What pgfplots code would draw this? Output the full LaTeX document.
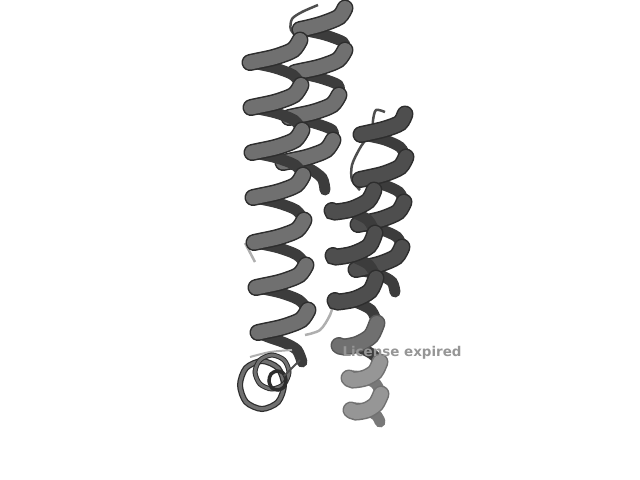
\documentclass[border=0pt]{standalone}
\usepackage{pgfplots}
\usepackage{pgfplotstable}
\usepackage{fontspec}
\newfontfamily\dejavu{DejaVu Sans}
\pgfplotsset{compat=1.18}
\definecolor{rib}{RGB}{112,112,112}
\definecolor{ribd}{RGB}{78,78,78}
\definecolor{ribb}{RGB}{60,60,60}
\definecolor{ribl}{RGB}{150,150,150}
\definecolor{edgec}{RGB}{45,45,45}
\definecolor{lightgr}{RGB}{175,175,175}
\definecolor{txtgr}{RGB}{150,150,150}
\pgfplotsset{
  backrib/.style={ribb, line width=11bp, smooth, line cap=round},
  frontout/.style={edgec, line width=17bp, smooth, line cap=round},
  frontin/.style={line width=14bp, smooth, line cap=round},
}
\pgfplotstableread{
x y
300 40
293 50
275 57
257 61
250 62.5
nan nan
301 85
294 95
276 102
258 106
251 107.5
nan nan
302 130
295 140
277 147
259 151
252 152.5
nan nan
303 175
296 185
278 192
260 196
253 197.5
nan nan
304 220
297 230
279 237
261 241
254 242.5
nan nan
306 265
299 275
281 282
263 286
256 287.5
nan nan
308 310
301 320
283 327
265 331
258 332.5
}\Afront
\pgfplotstableread{
x y
250 62.5
257 64
275 68
293 75
301 85
nan nan
251 107.5
258 109
276 113
294 120
302 130
nan nan
252 152.5
259 154
277 158
295 165
303 175
nan nan
253 197.5
260 199
278 203
296 210
304 220
nan nan
254 242.5
261 244
279 248
297 255
306 265
nan nan
256 287.5
263 289
281 293
299 300
308 310
nan nan
258 332.5
268 337
285 343
297 350
302 362
}\Aback
\pgfplotstableread{
x y
345 8
339 17
322 24
307 28
300 29.5
nan nan
345 50
338 60
320 67
302 71
295 72.5
nan nan
339 95
332 105
314 112
296 116
289 117.5
nan nan
333 140
326 150
308 157
290 161
283 162.5
}\Bfront
\pgfplotstableread{
x y
300 29.5
307 31
325 35
343 42
345 50
nan nan
295 72.5
302 74
320 78
338 85
339 95
nan nan
289 117.5
296 119
314 123
332 130
333 140
nan nan
283 162.5
290 164
308 168
322 178
325 190
}\Bback
\pgfplotstableread{
x y
405 114
400 123
385 129
368 133
361 134.5
nan nan
406 157
400 167
384 174
367 178
360 179.5
nan nan
404 202
398 212
382 219
365 223
358 224.5
nan nan
402 247
396 257
380 264
363 268
356 269.5
}\Cfront
\pgfplotstableread{
x y
361 134.5
368 136
385 140
400 147
406 157
nan nan
360 179.5
367 181
384 185
399 192
404 202
nan nan
358 224.5
365 226
382 230
397 237
402 247
nan nan
356 269.5
363 271
380 275
392 282
395 292
}\Cback
\pgfplotstableread{
x y
374 190
368 201
352 209
335 212
332 210.5
nan nan
375 233
369 246
353 254
336 257
333 255.5
nan nan
376 278
370 291
355 299
338 302
335 300.5
}\Dfronta
\pgfplotstableread{
x y
377 323
371 336
358 344
344 347
339 345.5
}\Dfrontb
\pgfplotstableread{
x y
380 362
375 372
365 378
353 380
349 378
nan nan
381 394
376 404
367 410
356 412
351 410
}\Dfrontc
\pgfplotstableread{
x y
332 210.5
337 209
352 212
368 220
375 233
nan nan
333 255.5
338 254
353 257
369 265
376 278
nan nan
335 300.5
340 299
355 302
371 310
377 323
nan nan
339 345.5
344 344
358 347
372 354
380 362
}\Dbacka
\pgfplotstableread{
x y
349 378
354 376
365 378
376 384
381 394
nan nan
351 410
356 408
367 410
377 416
380 422
}\Dbackb
\begin{document}
\begin{tikzpicture}
\begin{axis}[
  anchor=south west, at={(0,0)},
  width=640bp, height=480bp, scale only axis,
  xmin=0, xmax=640, ymin=0, ymax=480, y dir=reverse,
  hide axis, clip=false, unbounded coords=jump]
% thin loops
\addplot[lightgr, line width=2.5bp, smooth] coordinates {(305,335) (320,330) (330,315) (335,298)};
\addplot[lightgr, line width=2.5bp] coordinates {(245,243) (255,262)};
\addplot[ribd, line width=2.5bp, smooth] coordinates {(300,40) (291,30) (292,19) (302,12) (318,5)};
\addplot[ribd, line width=2.5bp, smooth] coordinates {(385,112) (376,110) (373,120) (372,130) (360,148) (352,165) (352,180) (360,190)};
% helix B
\addplot[backrib] table {\Bback};
\addplot[frontout] table {\Bfront};
\addplot[frontin, rib] table {\Bfront};
% helix C
\addplot[backrib] table {\Cback};
\addplot[frontout] table {\Cfront};
\addplot[frontin, ribd] table {\Cfront};
% helix A
\addplot[backrib] table {\Aback};
\addplot[frontout] table {\Afront};
\addplot[frontin, rib] table {\Afront};
% helix D
\addplot[backrib] table {\Dbacka};
\addplot[backrib, color=ribl!80!black] table {\Dbackb};
\addplot[frontout] table {\Dfronta};
\addplot[frontin, ribd] table {\Dfronta};
\addplot[frontout, color=edgec!80] table {\Dfrontb};
\addplot[frontin, rib] table {\Dfrontb};
\addplot[frontout, color=ribl!75!black] table {\Dfrontc};
\addplot[frontin, ribl] table {\Dfrontc};
% coil rings
\addplot[lightgr, line width=2bp, smooth] coordinates {(250,357) (270,352) (292,350)};
\addplot[edgec, line width=6bp, smooth cycle] coordinates {(284,385) (278,368) (262,361) (246,368) (240,385) (246,402) (262,409) (278,402)};
\addplot[rib, line width=3.5bp, smooth cycle] coordinates {(284,385) (278,368) (262,361) (246,368) (240,385) (246,402) (262,409) (278,402)};
\addplot[edgec, line width=5bp, smooth cycle] coordinates {(289,372) (284,360) (272,355) (260,360) (255,372) (260,384) (272,389) (284,384)};
\addplot[rib, line width=3bp, smooth cycle] coordinates {(289,372) (284,360) (272,355) (260,360) (255,372) (260,384) (272,389) (284,384)};
\addplot[edgec, line width=3.5bp, smooth cycle] coordinates {(286,380) (283,373) (277,371) (271,374) (269,381) (272,388) (278,390) (284,387)};
\addplot[ribd, line width=2bp, smooth] coordinates {(284,376) (292,368) (300,360)};
\node[text=txtgr, font=\dejavu\bfseries\fontsize{13.5}{15}\selectfont, anchor=west] at (axis cs:339,353) {License expired};
\end{axis}
\pgfresetboundingbox
\path (0,0) rectangle (640bp,480bp);
\end{tikzpicture}
\end{document}
